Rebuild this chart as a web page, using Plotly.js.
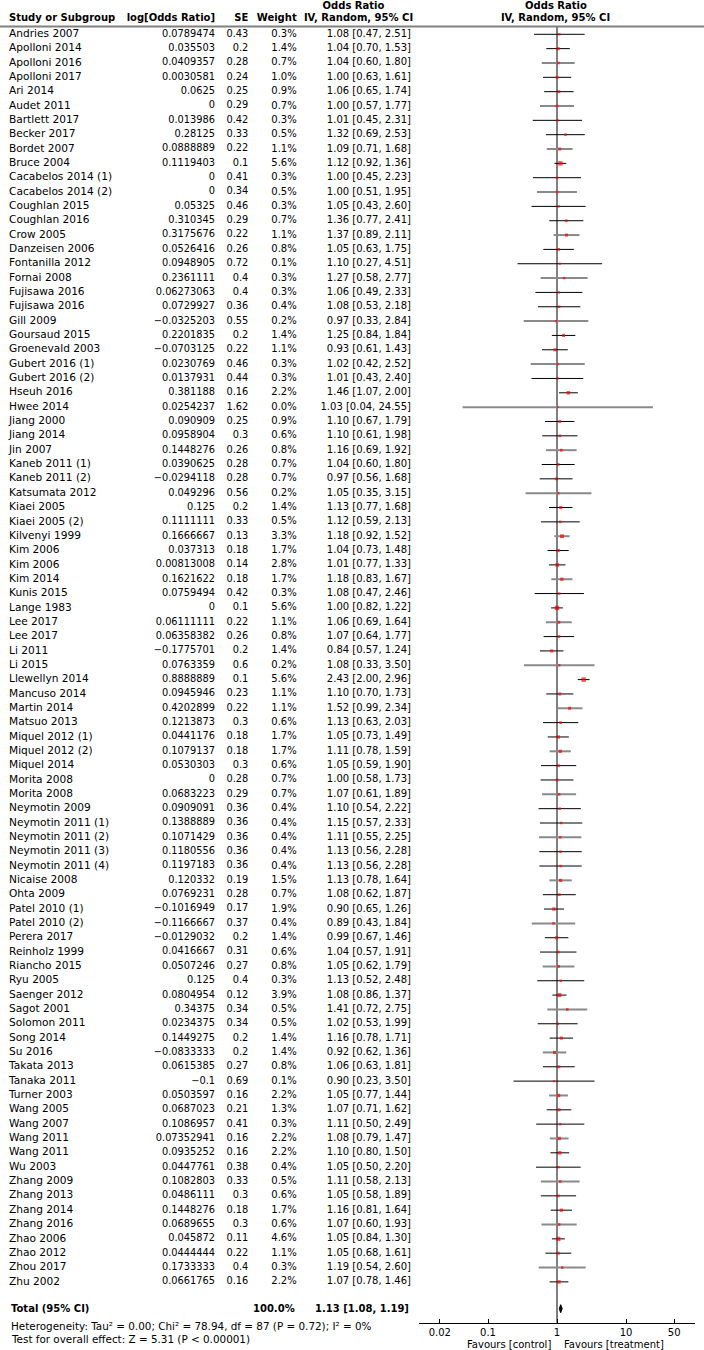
<!DOCTYPE html>
<html><head><meta charset="utf-8">
<script src="https://cdn.plot.ly/plotly-3.0.1.min.js"></script>
<style>html,body{margin:0;padding:0;background:#fff;}</style>
</head><body><div id="chart" style="width:704px;height:1350px;"></div>
<script>
const studies = ["Andries 2007","Apolloni 2014","Apolloni 2016","Apolloni 2017","Ari 2014","Audet 2011","Bartlett 2017","Becker 2017","Bordet 2007","Bruce 2004","Cacabelos 2014 (1)","Cacabelos 2014 (2)","Coughlan 2015","Coughlan 2016","Crow 2005","Danzeisen 2006","Fontanilla 2012","Fornai 2008","Fujisawa 2016","Fujisawa 2016","Gill 2009","Goursaud 2015","Groenevald 2003","Gubert 2016 (1)","Gubert 2016 (2)","Hseuh 2016","Hwee 2014","Jiang 2000","Jiang 2014","Jin 2007","Kaneb 2011 (1)","Kaneb 2011 (2)","Katsumata 2012","Kiaei 2005","Kiaei 2005 (2)","Kilvenyi 1999","Kim 2006","Kim 2006","Kim 2014","Kunis 2015","Lange 1983","Lee 2017","Lee 2017","Li 2011","Li 2015","Llewellyn 2014","Mancuso 2014","Martin 2014","Matsuo 2013","Miquel 2012 (1)","Miquel 2012 (2)","Miquel 2014","Morita 2008","Morita 2008","Neymotin 2009","Neymotin 2011 (1)","Neymotin 2011 (2)","Neymotin 2011 (3)","Neymotin 2011 (4)","Nicaise 2008","Ohta 2009","Patel 2010 (1)","Patel 2010 (2)","Perera 2017","Reinholz 1999","Riancho 2015","Ryu 2005","Saenger 2012","Sagot 2001","Solomon 2011","Song 2014","Su 2016","Takata 2013","Tanaka 2011","Turner 2003","Wang 2005","Wang 2007","Wang 2011","Wang 2011","Wu 2003","Zhang 2009","Zhang 2013","Zhang 2014","Zhang 2016","Zhao 2006","Zhao 2012","Zhou 2017","Zhu 2002"];
const logOR = [0.0789474,0.035503,0.0409357,0.0030581,0.0625,0,0.013986,0.28125,0.0888889,0.1119403,0,0,0.05325,0.310345,0.3175676,0.0526416,0.0948905,0.2361111,0.06273063,0.0729927,-0.0325203,0.2201835,-0.0703125,0.0230769,0.0137931,0.381188,0.0254237,0.090909,0.0958904,0.1448276,0.0390625,-0.0294118,0.049296,0.125,0.1111111,0.1666667,0.037313,0.00813008,0.1621622,0.0759494,0,0.06111111,0.06358382,-0.1775701,0.0763359,0.8888889,0.0945946,0.4202899,0.1213873,0.0441176,0.1079137,0.0530303,0,0.0683223,0.0909091,0.1388889,0.1071429,0.1180556,0.1197183,0.120332,0.0769231,-0.1016949,-0.1166667,-0.0129032,0.0416667,0.0507246,0.125,0.0804954,0.34375,0.0234375,0.1449275,-0.0833333,0.0615385,-0.1,0.0503597,0.0687023,0.1086957,0.07352941,0.0935252,0.0447761,0.1082803,0.0486111,0.1448276,0.0689655,0.045872,0.0444444,0.1733333,0.0661765];
const se = [0.43,0.2,0.28,0.24,0.25,0.29,0.42,0.33,0.22,0.1,0.41,0.34,0.46,0.29,0.22,0.26,0.72,0.4,0.4,0.36,0.55,0.2,0.22,0.46,0.44,0.16,1.62,0.25,0.3,0.26,0.28,0.28,0.56,0.2,0.33,0.13,0.18,0.14,0.18,0.42,0.1,0.22,0.26,0.2,0.6,0.1,0.23,0.22,0.3,0.18,0.18,0.3,0.28,0.29,0.36,0.36,0.36,0.36,0.36,0.19,0.28,0.17,0.37,0.2,0.31,0.27,0.4,0.12,0.34,0.34,0.2,0.2,0.27,0.69,0.16,0.21,0.41,0.16,0.16,0.38,0.33,0.3,0.18,0.3,0.11,0.22,0.4,0.16];
const weight = [0.3,1.4,0.7,1.0,0.9,0.7,0.3,0.5,1.1,5.6,0.3,0.5,0.3,0.7,1.1,0.8,0.1,0.3,0.3,0.4,0.2,1.4,1.1,0.3,0.3,2.2,0.0,0.9,0.6,0.8,0.7,0.7,0.2,1.4,0.5,3.3,1.7,2.8,1.7,0.3,5.6,1.1,0.8,1.4,0.2,5.6,1.1,1.1,0.6,1.7,1.7,0.6,0.7,0.7,0.4,0.4,0.4,0.4,0.4,1.5,0.7,1.9,0.4,1.4,0.6,0.8,0.3,3.9,0.5,0.5,1.4,1.4,0.8,0.1,2.2,1.3,0.3,2.2,2.2,0.4,0.5,0.6,1.7,0.6,4.6,1.1,0.3,2.2];
const totalOR = 1.13, totalLo = 1.08, totalHi = 1.19, totalWeight = 100.0;
const heterogeneityText = "Heterogeneity: Tau² = 0.00; Chi² = 78.94, df = 87 (P = 0.72); I² = 0%";
const overallText = "Test for overall effect: Z = 5.31 (P < 0.00001)";
const tickVals = [0.02, 0.1, 1, 10, 50];
const tickText = ["0.02", "0.1", "1", "10", "50"];
const headers = ["Study or Subgroup", "log[Odds Ratio]", "SE", "Weight", "Odds Ratio", "IV, Random, 95% CI"];
const favours = ["Favours [control]", "Favours [treatment]"];

// ---- layout geometry ----
const W = 704, H = 1350, ROW0 = 34.3, STEP = 14.34;
const pxRow = p => (p - ROW0) / STEP;
const pyPaper = p => 1 - p / H;
const FONT = "DejaVu Sans, Verdana, sans-serif";

const rows = studies.map((_, i) => i);
const ors = logOR.map(v => Math.exp(v));
const los = logOR.map((v, i) => Math.exp(v - 1.96 * se[i]));
const his = logOR.map((v, i) => Math.exp(v + 1.96 * se[i]));
const fmt = v => String(v).replace('-', '\u2212');
const ciText = ors.map((v, i) => v.toFixed(2) + " [" + los[i].toFixed(2) + ", " + his[i].toFixed(2) + "]");

function textCol(x, texts, pos, size) {
  return { type: 'scatter', mode: 'text', xaxis: 'x2', yaxis: 'y', x: rows.map(() => x), y: rows,
    text: texts, textposition: pos, textfont: { family: FONT, size: size, color: '#000' }, hoverinfo: 'skip', cliponaxis: false };
}
const traces = [];
traces.push(textCol(9, studies, 'middle right', 10.6));
traces.push(textCol(215, logOR.map(fmt), 'middle left', 9.8));
traces.push(textCol(248.3, se.map(fmt), 'middle left', 9.8));
traces.push(textCol(296.7, weight.map(w => w.toFixed(1) + '%'), 'middle left', 10));
traces.push(textCol(411, ciText, 'middle left', 10));

// header labels (text trace on the pixel-like x2 axis)
const hX = [9, 215, 248.3, 296.7, 353.5, 358.5, 556, 555.5];
const hY = [18.5, 18.5, 18.5, 18.5, 6, 18.5, 6, 18.5].map(pxRow);
const hT = [headers[0], headers[1], headers[2], headers[3], headers[4], headers[5], headers[4], headers[5]].map(t => '<b>' + t + '</b>');
const hP = ['middle right', 'middle left', 'middle left', 'middle left', 'middle center', 'middle center', 'middle center', 'middle center'];
traces.push({ type: 'scatter', mode: 'text', xaxis: 'x2', yaxis: 'y', x: hX, y: hY, text: hT, textposition: hP,
  textfont: { family: FONT, size: 10, color: '#000' }, hoverinfo: 'skip', cliponaxis: false });

// vertical null line
traces.push({ type: 'scatter', mode: 'lines', x: [1, 1], y: [pxRow(26), pxRow(1322.7)], xaxis: 'x', yaxis: 'y',
  line: { color: '#808080', width: 2 }, hoverinfo: 'skip' });

// CI lines
function ciTrace(filter, color, width) {
  const xs = [], ys = [];
  rows.forEach(i => { if (filter(i)) { xs.push(los[i], his[i], null); ys.push(i, i, null); } });
  return { type: 'scatter', mode: 'lines', x: xs, y: ys, xaxis: 'x', yaxis: 'y', line: { color: color, width: width }, hoverinfo: 'skip' };
}
traces.push(ciTrace(i => i % 3 !== 2, '#000000', 1));
traces.push(ciTrace(i => i % 3 === 2, '#8a8a8a', 2));

// point estimates
traces.push({ type: 'scatter', mode: 'markers', x: ors, y: rows, xaxis: 'x', yaxis: 'y',
  marker: { symbol: 'square', color: '#ff0000', size: weight.map(w => 1.8 + 1.1 * Math.sqrt(w)), line: { width: 0 } }, hoverinfo: 'skip' });

// total diamond
const rT = pxRow(1308.7), dh = 0.28;
traces.push({ type: 'scatter', mode: 'lines', x: [totalLo, totalOR, totalHi, totalOR, totalLo], y: [rT, rT - dh, rT, rT + dh, rT],
  xaxis: 'x', yaxis: 'y', fill: 'toself', fillcolor: '#000', line: { color: '#000', width: 1 }, hoverinfo: 'skip' });

const ann = [];
function A(px, py, text, anchor, bold, size) {
  ann.push({ xref: 'paper', yref: 'paper', x: px / W, y: pyPaper(py), text: bold ? '<b>' + text + '</b>' : text, showarrow: false,
    xanchor: anchor, yanchor: 'middle', font: { family: FONT, size: size || 10, color: '#000' } });
}
A(9, 1308.7, "Total (95% CI)", 'left', true);
A(296.7, 1308.7, totalWeight.toFixed(1) + '%', 'right', true);
A(411, 1308.7, totalOR.toFixed(2) + " [" + totalLo.toFixed(2) + ", " + totalHi.toFixed(2) + "]", 'right', true);
A(9, 1326, heterogeneityText, 'left', false, 10.4);
A(9, 1339.3, overallText, 'left', false, 10.4);
A(553, 1344, favours[0], 'right', false);
A(562, 1344, favours[1], 'left', false);

const layout = {
  width: W, height: H, margin: { l: 0, r: 0, t: 0, b: 0 }, paper_bgcolor: '#fff', plot_bgcolor: 'rgba(0,0,0,0)',
  showlegend: false, hovermode: false,
  xaxis: { type: 'log', range: [-2, 2], domain: [419 / W, 695 / W], anchor: 'free', position: pyPaper(1322.7),
    showline: true, linecolor: '#000', linewidth: 1, ticks: 'inside', ticklen: 4, tickcolor: '#000',
    tickvals: tickVals, ticktext: tickText, showgrid: false, zeroline: false,
    tickfont: { family: FONT, size: 10, color: '#000' } },
  xaxis2: { range: [0, W], domain: [0, 1], visible: false, anchor: 'y' },
  yaxis: { range: [pxRow(H), pxRow(0)], domain: [0, 1], visible: false },
  shapes: [{ type: 'line', xref: 'paper', yref: 'paper', x0: 0, x1: 1, y0: pyPaper(26.5), y1: pyPaper(26.5), line: { color: '#808080', width: 2 } }],
  annotations: ann
};
Plotly.newPlot('chart', traces, layout, { staticPlot: true, displayModeBar: false });
</script></body></html>
